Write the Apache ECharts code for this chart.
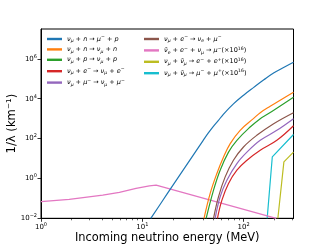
<!DOCTYPE html>
<html><head><meta charset="utf-8">
<script src="https://cdn.jsdelivr.net/npm/echarts@6/dist/echarts.min.js"></script>
<style>html,body{margin:0;padding:0;background:#fff}#c{width:327px;height:245px}</style>
</head><body><div id="c"></div>
<script>
// ---- data ----
const seriesNames = ['s1','s2','s3','s4','s5','s6','s7','s8','s9'];
const legendLabels = [
  '{i|ν}{s|μ}{r| + }{i|n}{r| → }{i|μ}{p|−}{r| + }{i|p}',
  '{i|ν}{s|μ}{r| + }{i|n}{r| → }{i|ν}{s|μ}{r| + }{i|n}',
  '{i|ν}{s|μ}{r| + }{i|p}{r| → }{i|ν}{s|μ}{r| + }{i|p}',
  '{i|ν}{s|μ}{r| + }{i|e}{p|−}{r| → }{i|ν}{s|μ}{r| + }{i|e}{p|−}',
  '{i|ν}{s|μ}{r| + }{i|μ}{p|−}{r| → }{i|ν}{s|μ}{r| + }{i|μ}{p|−}',
  '{i|ν}{s|μ}{r| + }{i|e}{p|−}{r| → }{i|ν}{s|e}{r| + }{i|μ}{p|−}',
  '{i|ν̄}{s|e}{r| + }{i|e}{p|−}{r| + }{i|ν}{s|μ}{r| → }{i|μ}{p|−}{r|(×10}{p|16}{r|)}',
  '{i|ν}{s|μ}{r| + }{i|ν̄}{s|μ}{r| → }{i|e}{p|−}{r| + }{i|e}{p|+}{r|(×10}{p|16}{r|)}',
  '{i|ν}{s|μ}{r| + }{i|ν̄}{s|μ}{r| → }{i|μ}{p|−}{r| + }{i|μ}{p|+}{r|(×10}{p|16}{r|)}'
];
const colors = ['#1f77b4','#ff7f0e','#2ca02c','#d62728','#9467bd','#8c564b','#e377c2','#bcbd22','#17becf'];

const E1 = [12.13, 15.85, 19.95, 25.1, 31.6, 39.8, 44.7, 50.1, 56.2, 63.1, 79.4, 100, 125.9, 158.5, 199.5, 251, 311];
const V1 = [0.01, 0.0759, 0.437, 2.45, 14.1, 79.4, 186, 398, 794, 1660, 5500, 15100, 37200, 89100, 199500, 380000, 676000];
const E2 = [40.7, 46.8, 54.5, 63.4, 73.8, 92.5, 125, 146, 183, 311];
const V2 = [0.01, 0.178, 1.78, 12, 56, 260, 1000, 2000, 4200, 21400];
const E3 = [42.7, 50.5, 58.7, 71, 85.9, 116, 146, 170, 311];
const V3 = [0.01, 0.26, 2.6, 21, 82, 380, 1000, 1600, 12000];
const E4 = [55.2, 61.1, 71, 85.9, 108, 146, 213, 311];
const V4 = [0.01, 0.082, 0.56, 2.6, 8.2, 26, 82, 440];
const E5 = [52.4, 58.7, 68.4, 85.9, 108, 146, 213, 311];
const V5 = [0.01, 0.12, 0.82, 5.6, 21, 82, 260, 1000];
const E6 = [50.5, 56.5, 65.8, 79.4, 99.8, 135, 198, 311];
const V6 = [0.01, 0.12, 1.2, 8.2, 38, 146, 560, 2000];
const E7 = [1, 1.9, 4.07, 5.94, 8.68, 11.75, 13.7, 210];
const V7 = [0.068, 0.089, 0.146, 0.2, 0.316, 0.427, 0.46, 0.01];
const E8 = [218, 250, 311];
const V8 = [0.01, 6.8, 21];
const E9 = [171, 192, 311];
const V9 = [0.01, 12, 160];
const smoothing = [0.4,0.4,0.4,0.4,0.4,0.4,0,0,0];

const xMajorTicks = [1, 10, 100];
const xMinorTicks = [2,3,4,5,6,7,8,9,20,30,40,50,60,70,80,90,200,300];
const yMajorTicks = [0.01, 1, 100, 1e4, 1e6];

const Es = [E1,E2,E3,E4,E5,E6,E7,E8,E9];
const Vs = [V1,V2,V3,V4,V5,V6,V7,V8,V9];

// ---- chart ----
const FONT = 'DejaVu Sans';
const labelMap = {};
seriesNames.forEach((n,i)=>labelMap[n]=legendLabels[i]);
const LF = 6.5, LS = 4.6;
const legRich = {
  r:{fontSize:LF,fontFamily:FONT,color:'#000',lineHeight:9},
  i:{fontSize:LF,fontFamily:FONT,fontStyle:'italic',color:'#000',lineHeight:9},
  s:{fontSize:LS,fontFamily:FONT,fontStyle:'italic',color:'#000',lineHeight:6,verticalAlign:'bottom'},
  p:{fontSize:LS,fontFamily:FONT,color:'#000',lineHeight:6,verticalAlign:'top'}
};
const expFmt = v => {
  const e = Math.round(Math.log10(v));
  return '{b|10}{e|' + (e < 0 ? '−' + (-e) : e) + '}';
};
const tickRich = {
  b:{fontSize:7,fontFamily:FONT,color:'#000',lineHeight:10},
  e:{fontSize:5,fontFamily:FONT,color:'#000',lineHeight:6,verticalAlign:'top'}
};
const grid = {left:41, right:33.5, top:29, bottom:26.7, show:true, borderColor:'#000', borderWidth:1,
  backgroundColor:'#fff', containLabel:false, outerBoundsMode:'none'};
const xMin = 1, xMax = 311, yMin = 0.01, yMax = Math.pow(10,7.5);

const series = seriesNames.map((n,i)=>({
  name:n, type:'line', xAxisIndex:0, yAxisIndex:0,
  data: Es[i].map((e,k)=>[e, Vs[i][k]]),
  symbol:'none', smooth:smoothing[i], clip:true,
  lineStyle:{color:colors[i], width:1.2}, itemStyle:{color:colors[i]},
  z: 10 - i
}));

const legendBase = {
  orient:'vertical', itemWidth:15, itemHeight:7, itemGap:2.4, padding:0,
  formatter: n => labelMap[n], textStyle:{rich:legRich},
  selectedMode:false, icon:'path://M0,0L1,0L1,0.16L0,0.16Z'
};

const option = {
  animation:false,
  grid: grid,
  legend:[
    Object.assign({}, legendBase, {left:47, top:34.5, data:seriesNames.slice(0,5)}),
    Object.assign({}, legendBase, {left:144, top:34.5, data:seriesNames.slice(5)})
  ],
  xAxis:[{
    type:'log', logBase:10, min:xMin, max:xMax,
    name:'Incoming neutrino energy (MeV)', nameLocation:'middle', nameGap:14, nameMoveOverlap:false,
    nameTextStyle:{fontSize:11.4, fontFamily:FONT, color:'#000', verticalAlign:'top'},
    axisLine:{show:true, lineStyle:{color:'#000', width:1}},
    axisTick:{show:true, inside:false, length:3.5, customValues:xMajorTicks, lineStyle:{color:'#000', width:0.8}},
    axisLabel:{show:true, customValues:xMajorTicks, margin:4, formatter:expFmt, rich:tickRich},
    splitLine:{show:false}, minorTick:{show:false}
  },{
    type:'log', logBase:10, min:xMin, max:xMax, position:'bottom', gridIndex:0,
    axisLine:{show:false},
    axisTick:{show:true, inside:false, length:2, customValues:xMinorTicks, lineStyle:{color:'#000', width:0.6}},
    axisLabel:{show:false}, splitLine:{show:false}
  }],
  yAxis:[{
    type:'log', logBase:10, min:yMin, max:yMax,
    name:'1/λ (km⁻¹)', nameLocation:'middle', nameGap:23, nameRotate:90, nameMoveOverlap:false,
    nameTextStyle:{fontSize:11.6, fontFamily:FONT, color:'#000'},
    axisLine:{show:true, lineStyle:{color:'#000', width:1}},
    axisTick:{show:true, inside:false, length:3.5, customValues:yMajorTicks, lineStyle:{color:'#000', width:0.8}},
    axisLabel:{show:true, customValues:yMajorTicks, margin:4, formatter:expFmt, rich:tickRich},
    splitLine:{show:false}
  }],
  series: series
};
const chart = echarts.init(document.getElementById('c'), null, {renderer:'canvas'});
chart.setOption(option);
</script></body></html>
